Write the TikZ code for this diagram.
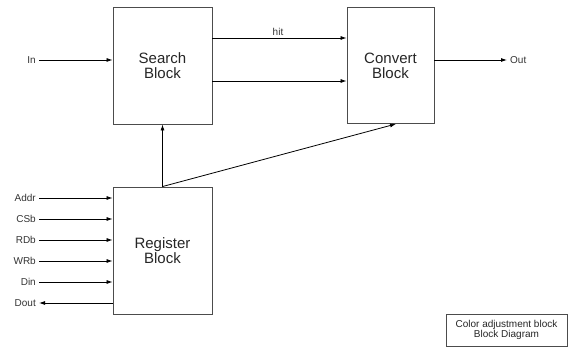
\documentclass[tikz,border=0pt]{standalone}
\usepackage{fontspec}
\setmainfont{Liberation Sans}
\usetikzlibrary{arrows.meta,calc}
\begin{document}
\begin{tikzpicture}[x=1pt,y=-1pt,
  blk/.style={draw=black!70,line width=0.9pt,fill=white,align=center,inner sep=0pt,
    font=\fontsize{15}{15}\selectfont,text=black!85},
  sig/.style={line width=0.8pt,-{Latex[length=6pt,width=4pt]}},
  wire/.style={line width=0.8pt},
  lbl/.style={font=\fontsize{10}{12}\selectfont,text=black!80,inner sep=0pt}]
\useasboundingbox (0,0) rectangle (568,347);
\node[blk,minimum width=99pt,minimum height=117pt] (S) at (162.5,65.5) {Search\\Block};
\node[blk,minimum width=87pt,minimum height=116pt] (C) at (390.5,65.5) {Convert\\Block};
\node[blk,minimum width=99pt,minimum height=127pt] (R) at (162.5,250.5) {Register\\Block};
% In
\node[lbl,anchor=east] (inl) at (36,60) {In};
\coordinate (ins) at (39,60);
\draw[sig] (ins) -- (ins -| S.west);
% hit and second line
\coordinate (hy) at (0,38);
\coordinate (sy) at (0,81);
\draw[sig] (S.east |- hy) -- (C.west |- hy);
\node[lbl,anchor=south] (hit) at (278,36) {hit};
\draw[sig] (S.east |- sy) -- (C.west |- sy);
% Out
\coordinate (oe) at (507,60);
\draw[sig] (C.east |- oe) -- (oe);
\node[lbl,anchor=west] (outl) at (510,60) {Out};
% Register to search / convert
\coordinate (ct) at ($(C.south west)!0.563!(C.south east)$);
\draw[sig] (R.north) -- (S.south);
\draw[sig] (R.north) -- (ct);
% Register inputs
\foreach \n/\t/\yy in {a/Addr/198,c/CSb/219,r/RDb/240,w/WRb/261,d/Din/282}{
  \node[lbl,anchor=east] (l\n) at (36,\yy) {\t};
  \coordinate (s\n) at (39,\yy);
  \draw[sig] (s\n) -- (s\n -| R.west);
}
\node[lbl,anchor=east] (ldo) at (36,303) {Dout};
\coordinate (sdo) at (39,303);
\draw[sig] (sdo -| R.west) -- (sdo);
% caption
\node[draw=black!70,line width=0.8pt,minimum width=121pt,minimum height=32pt,align=center,
  font=\fontsize{10}{10.5}\selectfont,text=black!85,inner sep=0pt] (cap) at (506.5,330) {Color adjustment block\\Block Diagram};
\end{tikzpicture}
\end{document}
